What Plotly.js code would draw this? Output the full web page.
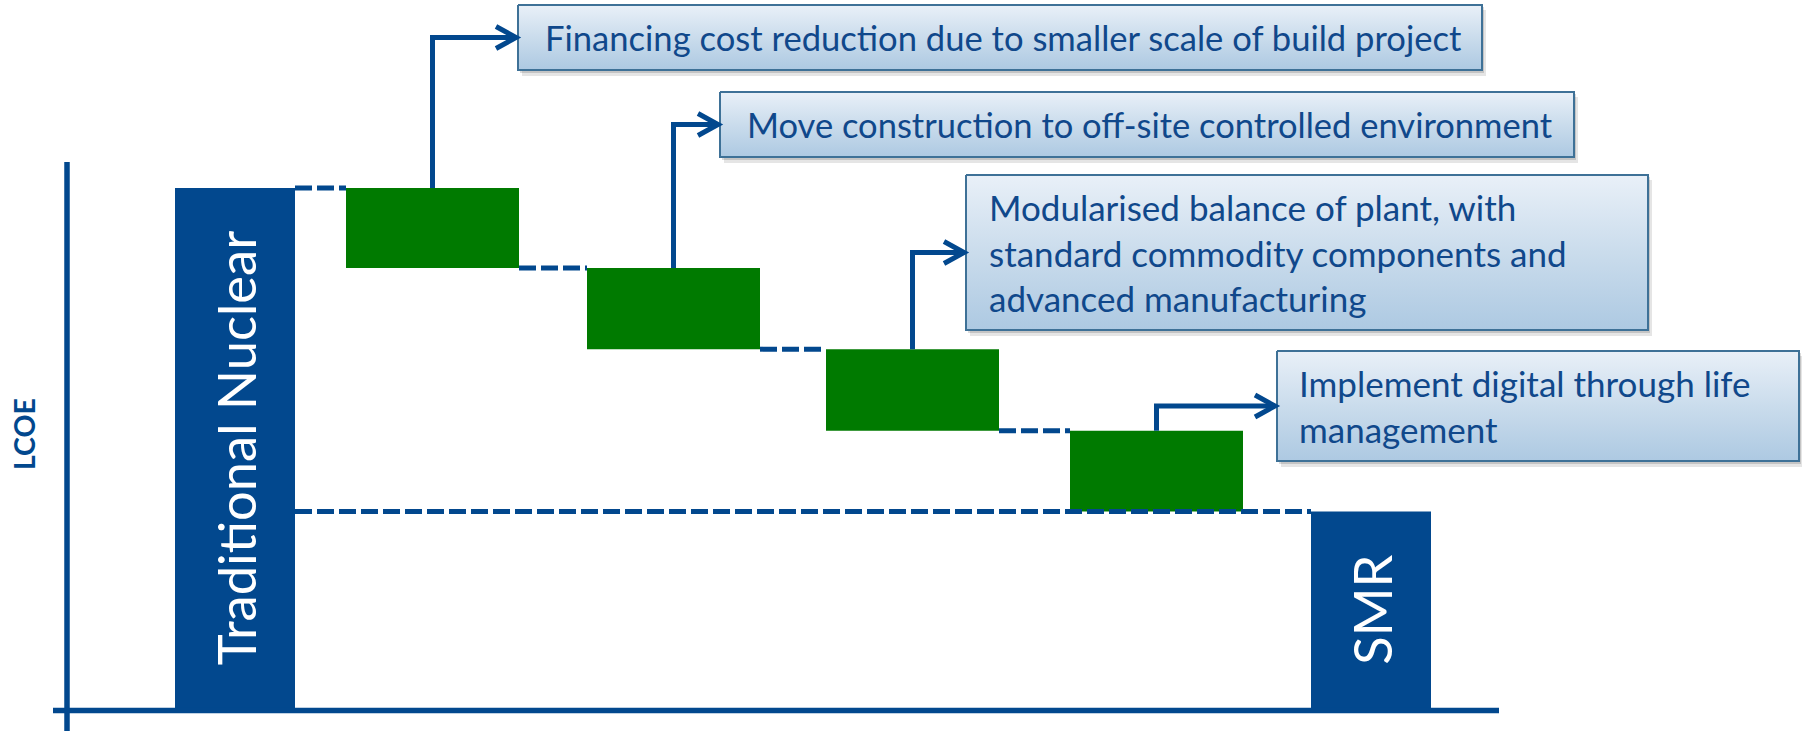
<!DOCTYPE html>
<html>
<head>
<meta charset="utf-8">
<script src="https://cdn.plot.ly/plotly-3.0.1.min.js"></script>
<style>
  html, body { margin: 0; padding: 0; background: #ffffff; }
  #chart { width: 1802px; height: 731px; }
</style>
</head>
<body>
<div id="chart"></div>
<script>
// ---------------- data ----------------
const categories = ['Traditional Nuclear', 'Financing', 'Off-site construction',
                    'Modular balance of plant', 'Digital through-life management', 'SMR'];
const measures   = ['absolute', 'relative', 'relative', 'relative', 'relative', 'total'];
const lcoeValues = [100, -15.4, -15.6, -15.7, -15.5, null];
const barLabels  = ['Traditional Nuclear', '', '', '', '', 'SMR'];
const driverTexts = [
  'Financing cost reduction due to smaller scale of build project',
  'Move construction to off-site controlled environment',
  'Modularised balance of plant, with<br>standard commodity components and<br>advanced manufacturing',
  'Implement digital through life<br>management'
];
const yAxisTitle = 'LCOE';

// ---------------- styling / layout ----------------
const W = 1802, H = 731;
const BLUE = '#02488E';
const GREEN = '#007A00';
const TEXT = '#10488B';
const FONT = 'Lato, "Open Sans", sans-serif';

const slotPx = 227.2, firstCenterPx = 235, baselinePx = 708, pxPerUnit = 5.2;
const X = px => (px - firstCenterPx) / slotPx;   // pixel -> x data units
const Y = py => (baselinePx - py) / pxPerUnit;   // pixel -> y data units

const barWidthPx = [120, 173, 173, 173, 173, 120];
const barNudgePx = [0, -29.7, -15.9, -4.1, 12.7, 0];
const widths  = barWidthPx.map(w => w / slotPx);
const offsets = barWidthPx.map((w, i) => (-w / 2 + barNudgePx[i]) / slotPx);
const xs = categories.map((_, i) => i);

// running level after each bar
const levels = [];
let run = 0;
measures.forEach((m, i) => {
  if (m === 'absolute') run = lcoeValues[i];
  else if (m === 'relative') run += lcoeValues[i];
  levels.push(run);
});
const leftEdge  = i => xs[i] + offsets[i];
const rightEdge = i => xs[i] + offsets[i] + widths[i];
const centerOf  = i => xs[i] + offsets[i] + widths[i] / 2;

// text boxes (pixel geometry)
const boxes = [
  {x0: 518,  x1: 1482, y0: 5,   y1: 70,  pad: 25, size: 34.6},
  {x0: 720,  x1: 1574, y0: 92,  y1: 157, pad: 25, size: 34.5},
  {x0: 966,  x1: 1648, y0: 175, y1: 330, pad: 21, size: 35},
  {x0: 1277, x1: 1799, y0: 351, y1: 461, pad: 20, size: 35}
];

const traces = [];
traces.push({
  type: 'waterfall',
  x: xs,
  y: lcoeValues,
  measure: measures,
  width: widths,
  offset: offsets,
  text: barLabels,
  textinfo: 'text',
  textposition: 'inside',
  insidetextanchor: 'middle',
  textangle: -90,
  constraintext: 'none',
  insidetextfont: {family: FONT, size: 52.5, color: '#ffffff'},
  decreasing: {marker: {color: GREEN, line: {width: 0}}},
  increasing: {marker: {color: GREEN, line: {width: 0}}},
  totals: {marker: {color: BLUE, line: {width: 0}}},
  connector: {visible: false},
  hoverinfo: 'skip'
});

const shapes = [];
const annotations = [];

// axis lines
shapes.push({type: 'line', xref: 'x', yref: 'y', x0: X(67), x1: X(67), y0: Y(162), y1: Y(731),
             line: {color: BLUE, width: 5.5}});
shapes.push({type: 'line', xref: 'x', yref: 'y', x0: X(53), x1: X(1499), y0: Y(710.5), y1: Y(710.5),
             line: {color: BLUE, width: 5.5}});

// dashed connectors
const dashLine = {color: BLUE, width: 5, dash: '17px,5px'};
for (let i = 0; i < 4; i++) {
  shapes.push({type: 'line', xref: 'x', yref: 'y',
               x0: rightEdge(i), x1: leftEdge(i + 1), y0: levels[i], y1: levels[i], line: dashLine});
}
shapes.push({type: 'line', xref: 'x', yref: 'y',
             x0: rightEdge(0), x1: leftEdge(5), y0: levels[5], y1: levels[5], line: dashLine});

// boxes, arrows, texts
boxes.forEach((b, k) => {
  const i = k + 1;
  const midPx = (b.y0 + b.y1) / 2;
  // shadows
  shapes.push({type: 'rect', layer: 'below', xref: 'x', yref: 'y',
               x0: X(b.x0 + 4), x1: X(b.x1 + 4), y0: Y(b.y0 + 5), y1: Y(b.y1 + 6),
               fillcolor: 'rgba(0,0,0,0.10)', line: {width: 0}});
  shapes.push({type: 'rect', layer: 'below', xref: 'x', yref: 'y',
               x0: X(b.x0 + 2), x1: X(b.x1 + 2), y0: Y(b.y0 + 2), y1: Y(b.y1 + 3),
               fillcolor: 'rgba(0,0,0,0.14)', line: {width: 0}});
  // gradient box
  traces.push({
    type: 'scatter', mode: 'lines',
    x: [X(b.x0), X(b.x1), X(b.x1), X(b.x0), X(b.x0)],
    y: [Y(b.y0), Y(b.y0), Y(b.y1), Y(b.y1), Y(b.y0)],
    fill: 'toself',
    fillcolor: '#CADCEC',
    fillgradient: {type: 'vertical', colorscale: [[0, '#ADC9E2'], [0.5, '#CADCEC'], [1, '#E9F0F8']]},
    line: {color: '#3E7197', width: 2},
    hoverinfo: 'skip'
  });
  // elbow arrow
  const cx = centerOf(i);
  shapes.push({type: 'path', xref: 'x', yref: 'y',
               path: `M ${cx},${levels[i - 1]} L ${cx},${Y(midPx)} L ${X(b.x0 - 2)},${Y(midPx)}`,
               line: {color: BLUE, width: 5}});
  shapes.push({type: 'path', xref: 'x', yref: 'y',
               path: `M ${X(b.x0 - 22)},${Y(midPx - 11)} L ${X(b.x0 - 2)},${Y(midPx)} L ${X(b.x0 - 22)},${Y(midPx + 11)}`,
               line: {color: BLUE, width: 5}});
  annotations.push({
    xref: 'x', yref: 'y', x: X(b.x0 + b.pad), y: Y(midPx),
    xanchor: 'left', yanchor: 'middle', align: 'left', showarrow: false,
    text: driverTexts[k],
    font: {family: FONT, size: b.size, color: TEXT}
  });
});

annotations.push({
  xref: 'x', yref: 'y', x: X(24), y: Y(434), textangle: -90,
  xanchor: 'center', yanchor: 'middle', showarrow: false,
  text: '<b>' + yAxisTitle + '</b>',
  font: {family: FONT, size: 28.5, color: BLUE}
});

const layout = {
  width: W, height: H,
  margin: {l: 0, r: 0, t: 0, b: 0, pad: 0},
  paper_bgcolor: '#ffffff', plot_bgcolor: '#ffffff',
  showlegend: false, hovermode: false, dragmode: false,
  xaxis: {type: 'linear', range: [X(0), X(W)], visible: false, fixedrange: true},
  yaxis: {type: 'linear', range: [Y(H), Y(0)], visible: false, fixedrange: true},
  shapes: shapes,
  annotations: annotations
};

Plotly.newPlot('chart', traces, layout, {staticPlot: true, displayModeBar: false});
</script>
</body>
</html>
